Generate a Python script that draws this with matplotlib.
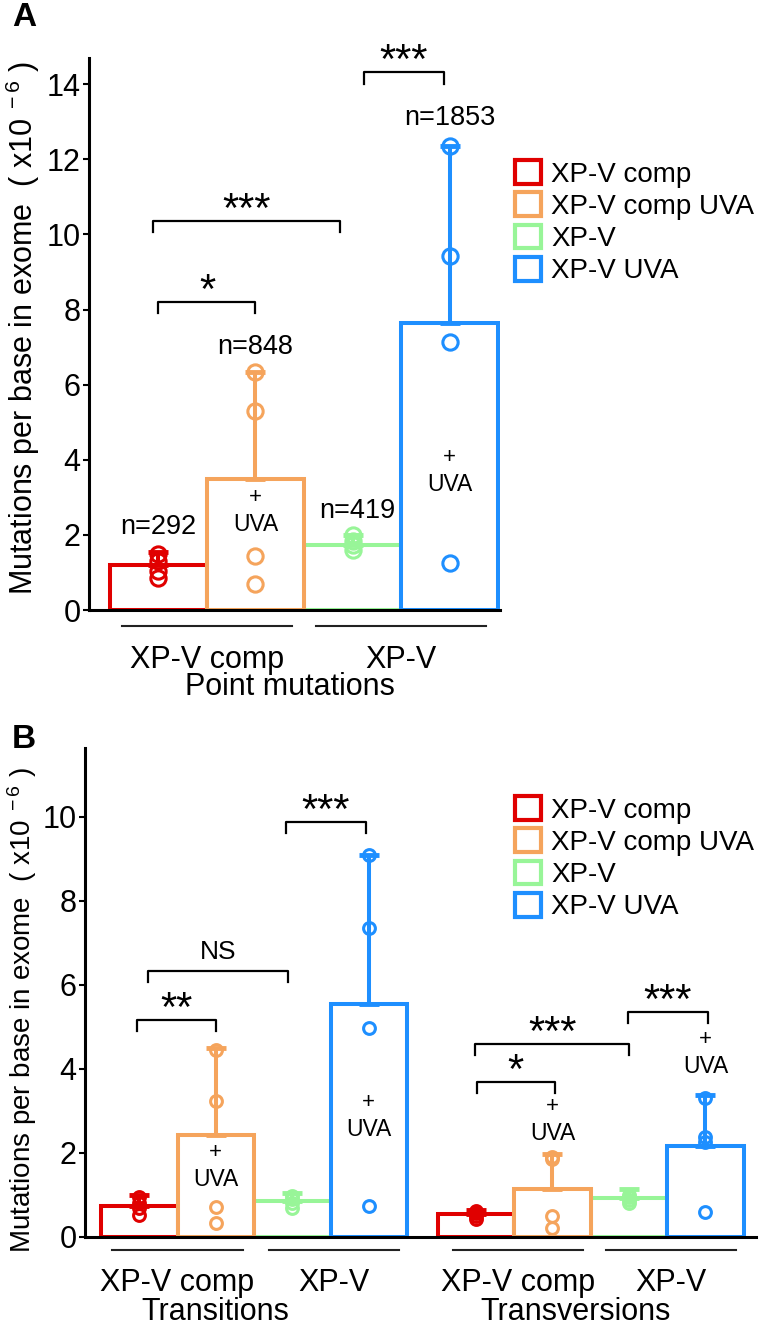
import matplotlib
matplotlib.use("Agg")
import matplotlib.pyplot as plt
from matplotlib.patches import Patch

plt.rcParams['font.family'] = 'Liberation Sans'
plt.rcParams['mathtext.fontset'] = 'custom'
plt.rcParams['mathtext.rm'] = 'Liberation Sans'
plt.rcParams['mathtext.it'] = 'Liberation Sans:italic'

# ---- data ----
series = ["XP-V comp", "XP-V comp UVA", "XP-V", "XP-V UVA"]
colors = ["#E00000", "#F5A45C", "#98F598", "#1E8FFF"]

# panel A: point mutations
a_means = [1.2, 3.5, 1.73, 7.65]
a_err_top = [1.55, 6.35, 2.0, 12.35]
a_points = [[0.85, 1.05, 1.3, 1.5],
            [6.35, 5.3, 1.44, 0.69],
            [1.6, 1.72, 1.85, 2.0],
            [12.35, 9.44, 7.15, 1.25]]
a_n = ["n=292", "n=848", "n=419", "n=1853"]
a_n_y = [2.2, 7.0, 2.64, 13.1]
a_sig = [(0.0, 1.0, 8.2, "*"), (-0.06, 1.87, 10.37, "***"), (2.12, 2.94, 14.32, "***")]

# panel B: transitions / transversions
b_means = [0.74, 2.43, 0.86, 5.55, 0.55, 1.14, 0.93, 2.17]
b_err_top = [1.0, 4.5, 1.05, 9.1, 0.64, 1.98, 1.15, 3.38]
b_points = [[0.52, 0.69, 0.8, 0.95],
            [4.45, 3.23, 0.71, 0.33],
            [0.7, 0.8, 0.9, 0.98],
            [9.1, 7.36, 4.98, 0.74],
            [0.43, 0.5, 0.58, 0.62],
            [1.9, 1.85, 0.5, 0.22],
            [0.8, 0.88, 0.95, 1.0],
            [3.3, 2.38, 2.25, 0.6]]
b_sig = [(-0.03, 1.0, 5.17, "**"), (0.11, 1.94, 6.33, "NS"), (1.92, 2.96, 9.88, "***"),
         (4.41, 5.43, 3.69, "*"), (4.39, 6.40, 4.6, "***"), (6.39, 7.43, 5.36, "***")]
b_uva_y = [None, 2.0, None, 3.19, None, 3.1, None, 4.69]

group_names = ["XP-V comp", "XP-V"]


def draw_bars(ax, xs, means, tops, points, ms):
    # green first, then red, UVA bars last so their edges sit on top
    order = [2, 0, 1, 3]
    for k in order:
        for i in range(k, len(xs), 4):
            ax.bar(xs[i], means[i], width=1.0, facecolor="white", edgecolor=colors[k],
                   linewidth=2.9, zorder=2 + (k % 2) * 0.1)
            ax.errorbar(xs[i], means[i], yerr=[[0], [tops[i] - means[i]]], color=colors[k],
                        elinewidth=2.9, capsize=7, capthick=3.5, zorder=3)
            ax.plot([xs[i]] * len(points[i]), points[i], "o", ms=ms, mfc="none",
                    mec=colors[k], mew=2.2, zorder=4)


def draw_sig(ax, sig, leg, fs_star):
    for x1, x2, y, lab in sig:
        ax.plot([x1, x1, x2, x2], [y - leg, y, y, y - leg], color="black", lw=1.6,
                clip_on=False, zorder=5)
        if lab == "NS":
            ax.text((x1 + x2) / 2, y + leg * 0.6, lab, ha="center", va="bottom",
                    fontsize=19)
        else:
            ax.text((x1 + x2) / 2, y - leg * 0.9, lab, ha="center", va="bottom",
                    fontsize=fs_star, clip_on=False)


def style_axis(ax, ymax, step):
    for s in ["top", "right"]:
        ax.spines[s].set_visible(False)
    ax.spines["left"].set_linewidth(2.2)
    ax.spines["bottom"].set_linewidth(2.2)
    ax.set_ylim(0, ymax)
    ax.set_yticks(range(0, int(ymax) + 1, step))
    ax.tick_params(axis="y", labelsize=22, length=4, width=1.5, pad=2)
    ax.set_xticks([])


fig = plt.figure(figsize=(7.59, 13.32), dpi=100)

# ---------- panel A ----------
axA = fig.add_axes([89 / 759, 1 - 610 / 1332, 411 / 759, 552 / 1332])
xa = [0, 1, 2, 3]
draw_bars(axA, xa, a_means, a_err_top, a_points, 11)
axA.set_xlim(-0.716, 3.52)
style_axis(axA, 14.7, 2)
draw_sig(axA, a_sig, 0.3, 30)
for i, t in enumerate(a_n):
    axA.text(xa[i] + (0.05 if i == 2 else 0), a_n_y[i], t, ha="center", va="center", fontsize=19.5)
for i, y in [(1, 2.99), (3, 4.05)]:
    axA.text(xa[i], y, "+", ha="center", va="center", fontsize=16)
    axA.text(xa[i], y - 0.72, "UVA", ha="center", va="center", fontsize=16.5)
for g, c in enumerate([0.5, 2.5]):
    axA.plot([c - 0.88, c + 0.88], [-0.43, -0.43], color="#222222", lw=1.5, clip_on=False)
    axA.text(c, -1.33, group_names[g], ha="center", va="center", fontsize=22)
axA.text(1.35, -2.05, "Point mutations", ha="center", va="center", fontsize=22)

# ---------- panel B ----------
axB = fig.add_axes([85 / 759, 1 - 1237 / 1332, 671 / 759, 489 / 1332])
xb = [0, 1, 2, 3, 4.4, 5.4, 6.4, 7.4]
draw_bars(axB, xb, b_means, b_err_top, b_points, 8.5)
axB.set_xlim(-0.709, 8.06)
style_axis(axB, 11.64, 2)
draw_sig(axB, b_sig, 0.27, 30)
for i, y in enumerate(b_uva_y):
    if y is None:
        continue
    axB.text(xb[i], y, "+", ha="center", va="center", fontsize=16)
    axB.text(xb[i], y - 0.63, "UVA", ha="center", va="center", fontsize=16.5)
for g, c in enumerate([0.5, 2.55, 4.95, 6.95]):
    axB.plot([c - 0.85, c + 0.85], [-0.31, -0.31], color="#222222", lw=1.5, clip_on=False)
    axB.text(c, -1.1, group_names[g % 2], ha="center", va="center", fontsize=22)
axB.text(1.0, -1.79, "Transitions", ha="center", va="center", fontsize=22)
axB.text(5.7, -1.79, "Transversions", ha="center", va="center", fontsize=22)

# y labels and panel letters
ylab = "Mutations per base in exome  ( x10$^{\\ -6}$ )"
fig.text(23 / 759, 1 - 328 / 1332, ylab, rotation=90, ha="center", va="center", fontsize=22)
fig.text(22 / 759, 1 - 1010 / 1332, ylab, rotation=90, ha="center", va="center", fontsize=20)
fig.text(12 / 759, 1 - 17 / 1332, "A", fontsize=24, fontweight="bold", va="center")
fig.text(12 / 759, 1 - 740 / 1332, "B", fontsize=24, fontweight="bold", va="center")

# legends
handles = [Patch(facecolor="white", edgecolor=c, linewidth=3) for c in colors]
for top in [160, 796]:
    fig.legend(handles, series, loc="upper left", bbox_to_anchor=(515 / 759, 1 - top / 1332),
               frameon=False, fontsize=20, handlelength=0.95, handleheight=0.95,
               handletextpad=0.35, labelspacing=0.17, borderpad=0, borderaxespad=0)

fig.savefig("out.png", dpi=100)
